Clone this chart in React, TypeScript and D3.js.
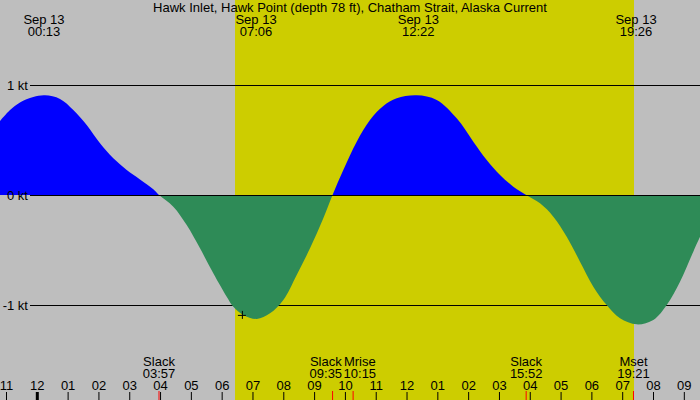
import React from "react";
import * as d3 from "d3";

const W = 700;
const H = 400;

const title = "Hawk Inlet, Hawk Point (depth 78 ft), Chatham Strait, Alaska Current";

// Current speed: hours after midnight Sep 13, knots (+ flood, - ebb)
const currentHours = [
  -1.211, -0.886, -0.562, -0.13, 0.25, 0.737, 1.168, 1.603, 2.035, 2.467, 2.902, 3.333,
  3.765, 3.95, 4.414, 4.849, 5.281, 5.712, 6.147, 6.362, 6.686, 7.121, 7.553, 7.984,
  8.419, 8.851, 9.283, 9.583, 9.932, 10.367, 10.798, 11.23, 11.665, 12.314, 12.963,
  13.612, 14.151, 14.586, 15.018, 15.45, 15.867, 16.316, 16.748, 17.183, 17.614, 18.046,
  18.481, 18.913, 19.455, 19.993, 20.428, 20.86, 21.292, 21.509,
];
const currentKnots = [
  0.673, 0.773, 0.842, 0.891, 0.906, 0.873, 0.773, 0.636, 0.47, 0.333, 0.227, 0.142,
  0.052, 0, -0.106, -0.273, -0.485, -0.712, -0.924, -1.015, -1.09, -1.127, -1.076, -0.955,
  -0.727, -0.485, -0.212, 0, 0.227, 0.485, 0.682, 0.809, 0.879, 0.906, 0.864,
  0.697, 0.485, 0.318, 0.182, 0.076, 0, -0.076, -0.197, -0.379, -0.606, -0.833,
  -1.0, -1.121, -1.176, -1.136, -1.0, -0.788, -0.515, -0.38,
];

// Max current times (top labels)
const peakDates = ["Sep 13", "Sep 13", "Sep 13", "Sep 13"];
const peakTimes = ["00:13", "07:06", "12:22", "19:26"];

// Events along the bottom
const eventNames = ["Slack", "Slack", "Mrise", "Slack", "Mset"];
const eventTimes = ["03:57", "09:35", "10:15", "15:52", "19:21"];

// Daylight band
const daylightStart = "06:25";
const daylightEnd = "19:22";

// Marker
const markerHour = 6.64;
const markerKnots = -1.09;

// Y axis levels
const levelValues = [1, 0, -1];
const levelLabels = ["1 kt", "0 kt", "-1 kt"];

// Hour ticks
const hourTicks = [-1, 0, 1, 2, 3, 4, 5, 6, 7, 8, 9, 10, 11, 12, 13, 14, 15, 16, 17, 18, 19, 20, 21];
const hourTickLabels = ["11", "12", "01", "02", "03", "04", "05", "06", "07", "08", "09", "10", "11", "12", "01", "02", "03", "04", "05", "06", "07", "08", "09"];

const toHours = (s: string) => {
  const [h, m] = s.split(":").map(Number);
  return h + m / 60;
};

const FONT = "'Liberation Sans', Arial, sans-serif";
const FS = 13;
const BG = "#bebebe";
const DAY = "#cdcd00";
const FLOOD = "#0000ff";
const EBB = "#2e8b57";

export default function App() {
  const x = d3.scaleLinear().domain([-1.211, 21.509]).range([0, W]);
  const y = d3.scaleLinear().domain([-1, 1]).range([305, 85]);

  const pts = currentHours.map((h, i) => [h, currentKnots[i]] as [number, number]);
  const area = d3
    .area<[number, number]>()
    .x((d) => x(d[0]))
    .y0(y(0))
    .y1((d) => y(d[1]))
    .curve(d3.curveCatmullRom.alpha(0.5));
  const areaPath = area(pts) || "";

  // Event label positions with simple collision avoidance
  const evX = eventTimes.map((t) => x(toHours(t)));
  const labX = evX.slice();
  const minGap = 34;
  for (let i = 0; i < labX.length - 1; i++) {
    const ov = minGap - (labX[i + 1] - labX[i]);
    if (ov > 0) {
      labX[i] -= ov / 2;
      labX[i + 1] += ov / 2;
    }
  }

  const d0 = x(toHours(daylightStart));
  const d1 = x(toHours(daylightEnd));
  const mx = x(markerHour);
  const my = y(markerKnots);

  return (
    <svg
      width={W}
      height={H}
      style={{ position: "absolute", left: 0, top: 0, display: "block" }}
      fontFamily={FONT}
    >
      <defs>
        <clipPath id="above">
          <rect x={0} y={0} width={W} height={y(0)} />
        </clipPath>
        <clipPath id="below">
          <rect x={0} y={y(0)} width={W} height={H - y(0)} />
        </clipPath>
      </defs>
      <rect x={0} y={0} width={W} height={H} fill={BG} />
      <rect x={d0} y={0} width={d1 - d0} height={H} fill={DAY} />

      {levelValues.map((v) =>
        v !== 0 ? (
          <line key={v} x1={30} x2={W} y1={y(v) + 0.5} y2={y(v) + 0.5} stroke="#000" strokeWidth={1} />
        ) : null
      )}

      <path d={areaPath} fill={FLOOD} clipPath="url(#above)" />
      <path d={areaPath} fill={EBB} clipPath="url(#below)" />

      <line x1={30} x2={W} y1={y(0) + 0.5} y2={y(0) + 0.5} stroke="#000" strokeWidth={1} />

      {levelValues.map((v, i) => (
        <text key={v} x={28} y={y(v) + 4.5} textAnchor="end" fontSize={FS} fill="#000">
          {levelLabels[i]}
        </text>
      ))}

      {/* marker */}
      <line x1={mx - 4} x2={mx + 4} y1={my + 0.5} y2={my + 0.5} stroke="#000" />
      <line x1={mx + 0.5} x2={mx + 0.5} y1={my - 4} y2={my + 4} stroke="#000" />

      <text x={W / 2} y={11.5} textAnchor="middle" fontSize={FS} fill="#000">
        {title}
      </text>

      {peakTimes.map((t, i) => {
        const px = x(toHours(t));
        return (
          <g key={t}>
            <text x={px} y={24} textAnchor="middle" fontSize={FS} fill="#000">
              {peakDates[i]}
            </text>
            <text x={px} y={36} textAnchor="middle" fontSize={FS} fill="#000">
              {t}
            </text>
          </g>
        );
      })}

      {hourTicks.map((h, i) => {
        const hx = x(h);
        const midnight = h % 24 === 0;
        return (
          <g key={h}>
            <text x={hx} y={389.5} textAnchor="middle" fontSize={FS} fill="#000">
              {hourTickLabels[i]}
            </text>
            <line
              x1={hx}
              x2={hx}
              y1={392}
              y2={H}
              stroke="#000"
              strokeWidth={midnight ? 3 : 1}
            />
          </g>
        );
      })}

      {eventNames.map((n, i) => (
        <g key={i}>
          <line x1={evX[i]} x2={evX[i]} y1={391} y2={H} stroke="#ff0000" strokeWidth={1} />
          <text x={labX[i]} y={366} textAnchor="middle" fontSize={FS} fill="#000">
            {n}
          </text>
          <text x={labX[i]} y={377.5} textAnchor="middle" fontSize={FS} fill="#000">
            {eventTimes[i]}
          </text>
        </g>
      ))}
    </svg>
  );
}
